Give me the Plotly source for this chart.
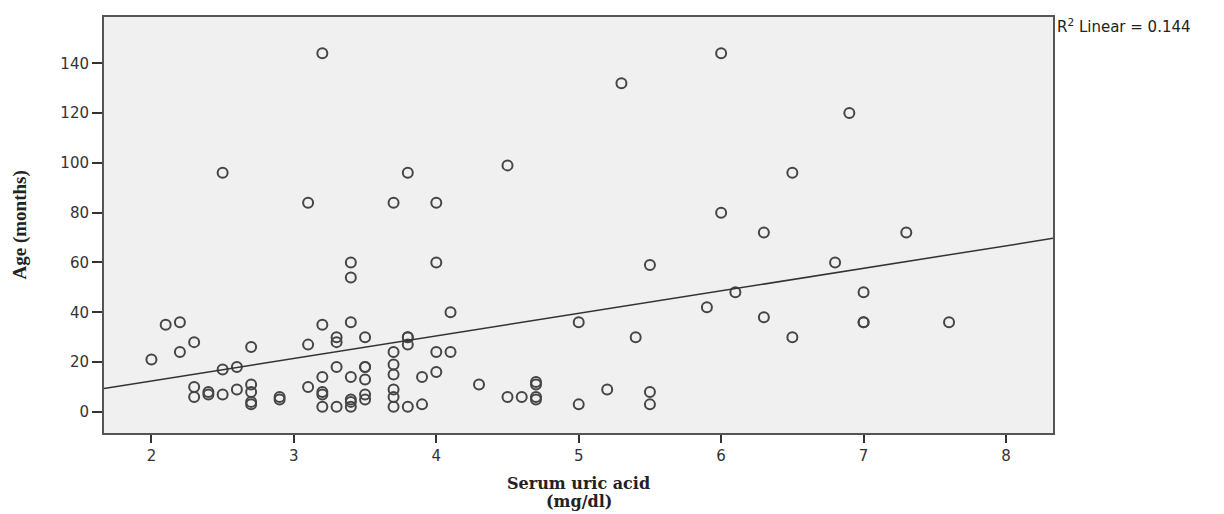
import plotly.graph_objects as go

# Serum uric acid (mg/dl) and Age (months)
uric_acid = [2.0, 2.1, 2.2, 2.2, 2.3, 2.3, 2.3, 2.4, 2.4, 2.5, 2.5, 2.5, 2.6, 2.6,
             2.7, 2.7, 2.7, 2.7, 2.7, 2.9, 2.9, 3.1, 3.1, 3.1, 3.2, 3.2, 3.2, 3.2,
             3.2, 3.2, 3.3, 3.3, 3.3, 3.3, 3.4, 3.4, 3.4, 3.4, 3.4, 3.4, 3.4, 3.5,
             3.5, 3.5, 3.5, 3.5, 3.5, 3.7, 3.7, 3.7, 3.7, 3.7, 3.7, 3.7, 3.8, 3.8,
             3.8, 3.8, 3.8, 3.9, 3.9, 4.0, 4.0, 4.0, 4.0, 4.1, 4.1, 4.3, 4.5, 4.5,
             4.6, 4.7, 4.7, 4.7, 4.7, 5.0, 5.0, 5.2, 5.3, 5.4, 5.5, 5.5, 5.5, 5.9,
             6.0, 6.0, 6.1, 6.3, 6.3, 6.5, 6.5, 6.8, 6.9, 7.0, 7.0, 7.0, 7.3, 7.6]
age_months = [21, 35, 36, 24, 28, 10, 6, 8, 7, 7, 17, 96, 18, 9,
              26, 11, 8, 4, 3, 5, 6, 84, 27, 10, 144, 35, 14, 8,
              7, 2, 30, 28, 18, 2, 60, 54, 36, 14, 5, 4, 2, 30,
              18, 18, 13, 7, 5, 84, 24, 19, 15, 9, 6, 2, 96, 30,
              30, 27, 2, 14, 3, 84, 60, 24, 16, 40, 24, 11, 99, 6,
              6, 12, 11, 6, 5, 36, 3, 9, 132, 30, 59, 8, 3, 42,
              144, 80, 48, 72, 38, 96, 30, 60, 120, 48, 36, 36, 72, 36]

# Linear fit line
fit_intercept = -5.7
fit_slope = 9.05
x_range = [1.667, 8.33]
y_range = [-8.5, 158.6]
x_ticks = [2, 3, 4, 5, 6, 7, 8]
y_ticks = [0, 20, 40, 60, 80, 100, 120, 140]
r2_label = "R<sup>2</sup> Linear = 0.144"
x_title_1 = "Serum uric acid"
x_title_2 = "(mg/dl)"
y_title = "Age (months)"

fig = go.Figure()
fig.add_trace(go.Scatter(
    x=uric_acid, y=age_months, mode="markers",
    marker=dict(symbol="circle-open", size=10, color="#454545",
                line=dict(width=2, color="#454545")),
    showlegend=False, hoverinfo="x+y"))

fit_x = x_range
fit_y = [fit_intercept + fit_slope * v for v in fit_x]
fig.add_trace(go.Scatter(
    x=fit_x, y=fit_y, mode="lines",
    line=dict(color="#333333", width=1.5),
    showlegend=False, hoverinfo="skip"))

axis_common = dict(
    showgrid=False, zeroline=False, showline=True, mirror=True,
    linecolor="#555555", linewidth=2,
    ticks="outside", tickcolor="#333333", tickwidth=2,
    tickfont=dict(family="DejaVu Sans", size=15, color="#333333"),
)

fig.update_xaxes(range=x_range, tickvals=x_ticks, ticklen=8, **axis_common)
fig.update_yaxes(range=y_range, tickvals=y_ticks, ticklen=10, **axis_common)

title_font = dict(family="DejaVu Serif", size=16, color="#222222")

fig.update_layout(
    width=1216, height=506,
    margin=dict(l=96, r=171, t=7, b=81),
    paper_bgcolor="white", plot_bgcolor="#f0f0f0",
    annotations=[
        dict(text=r2_label, xref="paper", yref="paper", x=1.002, y=0.978,
             xanchor="left", yanchor="middle", showarrow=False,
             font=dict(family="DejaVu Sans", size=15, color="#222222")),
        dict(text="<b>" + y_title + "</b>", xref="paper", yref="paper",
             x=-0.088, y=0.5, xanchor="center", yanchor="middle",
             textangle=-90, showarrow=False,
             font=dict(family="Liberation Serif", size=19, color="#222222")),
        dict(text="<b>" + x_title_1 + "</b>", xref="paper", yref="paper",
             x=0.5, y=-0.122, xanchor="center", yanchor="middle",
             showarrow=False, font=title_font),
        dict(text="<b>" + x_title_2 + "</b>", xref="paper", yref="paper",
             x=0.5, y=-0.164, xanchor="center", yanchor="middle",
             showarrow=False, font=title_font),
    ],
)

fig.write_html("out.html")
